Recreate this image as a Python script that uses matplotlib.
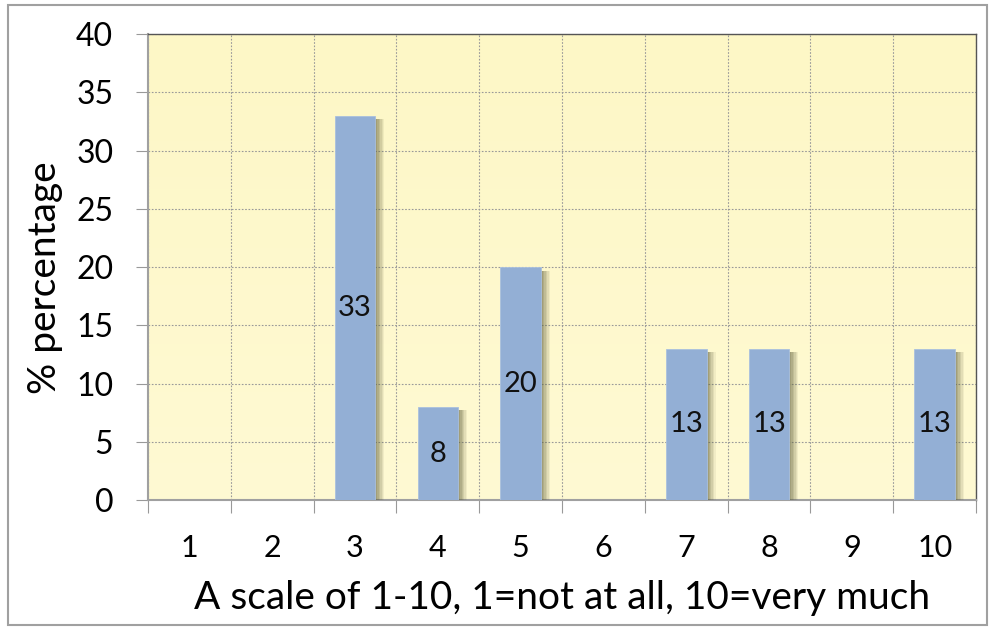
import numpy as np
import matplotlib
matplotlib.use("Agg")
import matplotlib.pyplot as plt
import matplotlib.patheffects as pe
from matplotlib.patches import Rectangle

# --- data ---
categories = ["1", "2", "3", "4", "5", "6", "7", "8", "9", "10"]
percentages = [0, 0, 33, 8, 20, 0, 13, 13, 0, 13]
bar_labels = ["", "", "33", "8", "20", "", "13", "13", "", "13"]

plt.rcParams['font.family'] = ['Lato', 'DejaVu Sans']

fig = plt.figure(figsize=(9.93, 6.3), dpi=100)
ax = fig.add_axes([0.149, 0.206, 0.834, 0.740])

# outer frame of the chart
fig.patches.append(Rectangle((0.008, 0.008), 0.986, 0.984, transform=fig.transFigure,
                             fill=False, edgecolor='#a0a0a0', linewidth=1.5))

x = np.arange(1, len(categories) + 1)

# pale yellow background
grad = np.linspace(0, 1, 256).reshape(-1, 1)
cmap = matplotlib.colors.LinearSegmentedColormap.from_list('bg', ['#fdf7c6', '#fffad3'])
ax.imshow(grad, extent=[0.5, 10.5, 0, 40], aspect='auto', cmap=cmap, zorder=0, origin='upper')

bars = ax.bar(x, percentages, width=0.49, color='#93afd5', edgecolor='#a9c0de',
              linewidth=0.6, zorder=3)
# soft blurred shadow to the right, like the office chart
shadow = [pe.SimplePatchShadow(offset=(d, -2.5), shadow_rgbFace='#5e5e3a', alpha=a)
          for d, a in [(6.5, 0.08), (5.5, 0.1), (4.5, 0.12), (3.5, 0.14), (2.5, 0.16), (1.5, 0.18)]]
for b in bars:
    b.set_path_effects(shadow + [pe.Normal()])

for xi, v, lab in zip(x, percentages, bar_labels):
    if lab:
        ax.text(xi, v / 2, lab, ha='center', va='center', fontsize=21, color='#111111', zorder=4)

ax.set_xlim(0.5, 10.5)
ax.set_ylim(0, 40)
ax.set_yticks(np.arange(0, 41, 5))
ax.set_xticks(np.arange(0.5, 11, 1))
ax.set_xticklabels([])
ax.set_xticks(x, minor=True)
ax.set_xticklabels(categories, minor=True)
ax.tick_params(axis='x', which='minor', length=0, labelsize=22, pad=24)
ax.tick_params(axis='x', which='major', length=9, color='#999999', direction='out')
ax.tick_params(axis='y', length=9, color='#999999', labelsize=23, pad=16)

ax.grid(True, which='major', linestyle=(0, (1.5, 1.5)), color='#999999', linewidth=0.8, zorder=1)
ax.set_axisbelow(True)

for s in ['left', 'bottom']:
    ax.spines[s].set_color('#a0a0a0')
    ax.spines[s].set_linewidth(1.5)
for s in ['top', 'right']:
    ax.spines[s].set_color('#555555')
    ax.spines[s].set_linewidth(1.0)

ax.set_ylabel('% percentage', fontsize=28)
ax.yaxis.set_label_coords(-0.102, 0.478)
ax.set_xlabel('A scale of 1-10, 1=not at all, 10=very much', fontsize=28, labelpad=13)

fig.savefig('out.png', dpi=100)
